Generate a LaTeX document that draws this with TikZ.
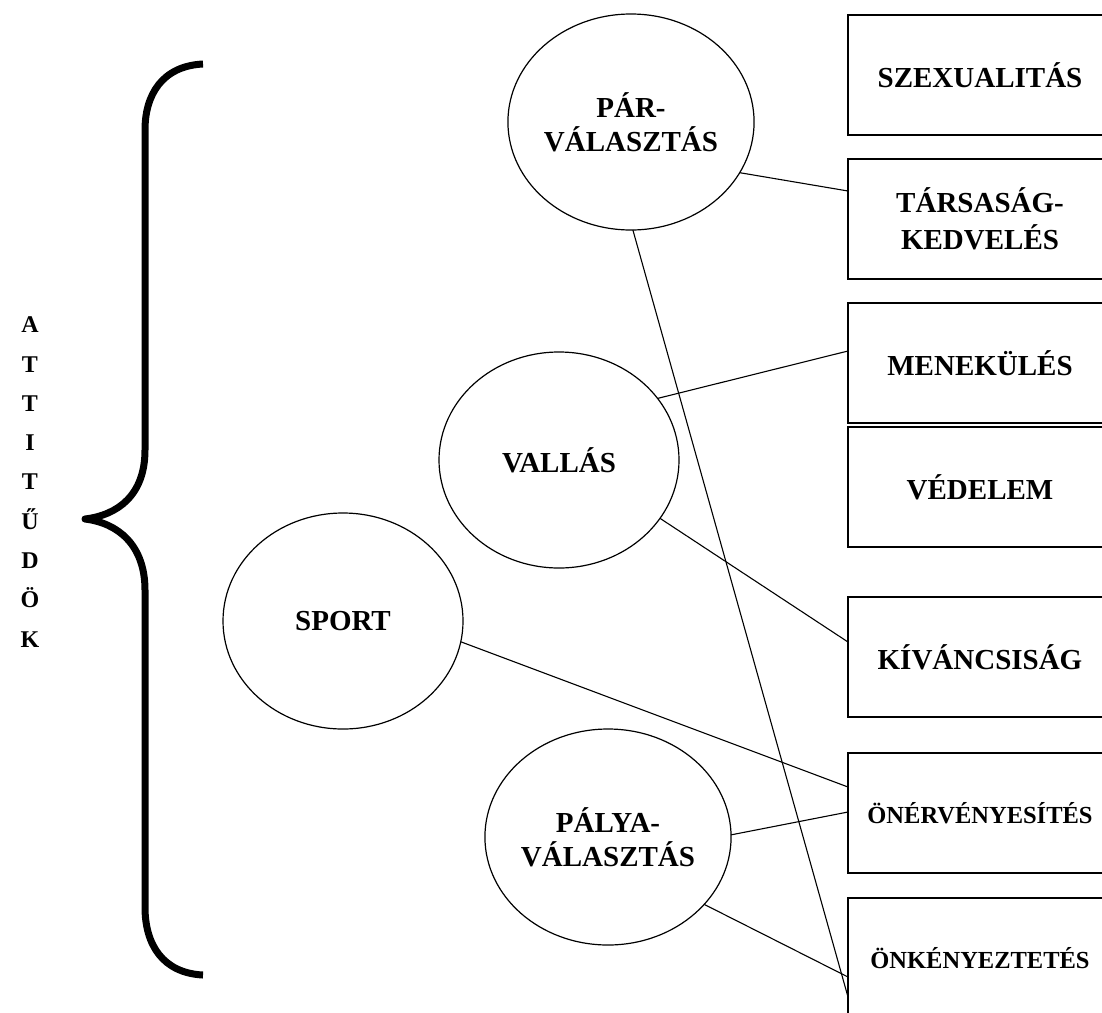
\documentclass[tikz,border=0pt]{standalone}
\usepackage{fontspec}
\setmainfont{Liberation Serif}
\usetikzlibrary{shapes.geometric}
\begin{document}
\begin{tikzpicture}[x=1pt,y=-1pt,
  oval/.style={draw, ellipse, line width=1.2pt, minimum width=240pt, minimum height=216pt, inner sep=0pt, outer sep=0pt, align=center, font=\fontsize{29}{34}\selectfont\bfseries},
  box/.style={draw, rectangle, line width=1.5pt, minimum width=264pt, minimum height=120pt, inner sep=0pt, outer sep=0pt, align=center, font=\fontsize{29}{37}\selectfont\bfseries},
  smallbox/.style={box, font=\fontsize{24.5}{30}\selectfont\bfseries},
  link/.style={line width=1.1pt}]
\useasboundingbox (0,0) rectangle (1102,1012);
% brace
\draw[line width=7pt, line join=round, line cap=butt] (203,64) .. controls (162,66) and (145,95) .. (145,130) -- (145,450)
  .. controls (145,495) and (118,515) .. (85,519)
  .. controls (118,523) and (145,545) .. (145,590) -- (145,907)
  .. controls (145,945) and (163,973) .. (203,975);
\node[align=center, font=\fontsize{24}{39.3}\selectfont\bfseries] (att) at (30,482) {A\\T\\T\\I\\T\\Ű\\D\\Ö\\K};
% ellipses
\node[oval] (par) at (631,122) {PÁR-\\VÁLASZTÁS};
\node[oval] (vallas) at (559,460) {VALLÁS};
\node[oval] (sport) at (343,621) {SPORT};
\node[oval] (palya) at (608,837) {PÁLYA-\\VÁLASZTÁS};
% boxes
\node[box] (szex) at (980,75) {SZEXUALITÁS};
\node[box] (tars) at (980,219) {TÁRSASÁG-\\KEDVELÉS};
\node[box] (menek) at (980,363) {MENEKÜLÉS};
\node[box] (vedelem) at (980,487) {VÉDELEM};
\node[box] (kiv) at (980,657) {KÍVÁNCSISÁG};
\node[smallbox] (oner) at (980,813) {ÖNÉRVÉNYESÍTÉS};
\node[smallbox] (onkeny) at (980,958) {ÖNKÉNYEZTETÉS};
% connectors
\draw[link] (par.-25.5) -- ([yshift=28pt]tars.west);
\draw[link] (par.-89) -- ([yshift=-39pt]onkeny.west);
\draw[link] (vallas.32.3) -- ([yshift=12pt]menek.west);
\draw[link] (vallas.-30.5) -- ([yshift=15pt]kiv.west);
\draw[link] (sport.-10.4) -- ([yshift=26pt]oner.west);
\draw[link] (palya.1) -- ([yshift=1pt]oner.west);
\draw[link] (palya.-35.8) -- ([yshift=-19pt]onkeny.west);
\end{tikzpicture}
\end{document}
